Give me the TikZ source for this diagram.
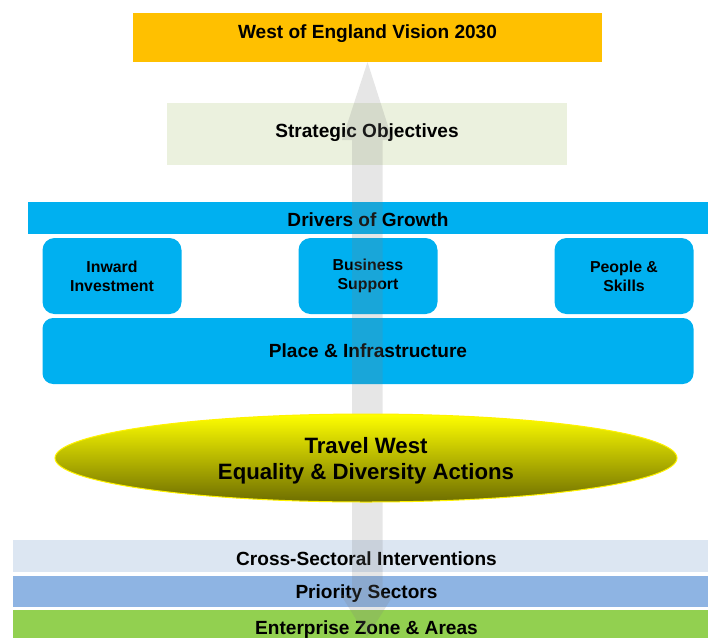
\documentclass[tikz,border=0pt]{standalone}
\usepackage{fontspec}
\setmainfont{Liberation Sans}
\usetikzlibrary{positioning, shapes.geometric}
\definecolor{visionorange}{HTML}{FFC000}
\definecolor{objectivegreen}{HTML}{EBF1DE}
\definecolor{growthblue}{HTML}{00B0F0}
\definecolor{crossgrey}{HTML}{DCE6F2}
\definecolor{prioritysky}{HTML}{8EB4E3}
\definecolor{enterprisegreen}{HTML}{92D050}
\definecolor{ovalmid}{HTML}{CCCC00}
\definecolor{ovalbottom}{HTML}{6E6E00}
\tikzset{
x=0.75pt, y=-0.75pt, % one unit is one pixel of the layout, y runs downward
node distance=192pt, % centre to centre distance of the three driver tiles
every node/.style={inner sep=0pt, outer sep=0pt, font=\bfseries\fontsize{14.3}{17}\selectfont}, % plain boxes, bold Arial-like text
onerow/.style={text height=10.3pt, text depth=#1}, % centres the capitals, a depth lifts the text
onerow/.default=0pt,
panel/.style={rectangle}, % a flat box, the fill is given per node
tile/.style={rectangle, fill=growthblue, rounded corners=9pt, minimum width=104.25pt, minimum height=57pt, align=center, font=\bfseries\fontsize{11.9}{14}\selectfont}, % the three small driver boxes
bar/.style={rectangle, fill=#1, minimum width=530.25pt, minimum height=24pt}, % the long bands at the foot
uparrow/.style={fill=gray, fill opacity=0.2}, % the see-through arrow behind everything
oval/.style={ellipse, draw=yellow, line width=0.75pt, top color=yellow, middle color=ovalmid, bottom color=ovalbottom, minimum width=466.5pt, minimum height=66pt, align=center, font=\bfseries\fontsize{16.65}{19.5}\selectfont}, % the shaded ellipse
}
\begin{document}
        \begin{tikzpicture}
            \useasboundingbox (0,0) rectangle (708,637);

            \node[panel, fill=visionorange, minimum width=351.75pt, minimum height=36.75pt, onerow=9pt] (vision) at (367.5,37.5) {West of England Vision 2030};
            \node[panel, fill=objectivegreen, minimum width=300pt, minimum height=46.5pt, onerow=4.5pt] (objectives) at (367,134) {Strategic Objectives};
            \node[panel, fill=growthblue, minimum width=510pt, minimum height=24pt, onerow, text height=12.5pt] (drivers) at (368,218) {Drivers of Growth};

            \node[tile, below=3pt of drivers] (business) {Business\\Support};
            \node[tile, left of=business] (inward) {Inward\\Investment};
            \node[tile, right of=business] (people) {People \&\\Skills};
            \node[panel, fill=growthblue, rounded corners=8pt, minimum width=488.25pt, minimum height=49.5pt, onerow, below=3pt of business] (place) {Place \& Infrastructure};

            \node[bar=crossgrey, onerow, text height=14pt] (cross) at (366.5,556) {Cross-Sectoral Interventions};
            \node[bar=prioritysky, minimum height=23.25pt, onerow, below=3pt of cross] (priority) {Priority Sectors};
            \node[bar=enterprisegreen, minimum height=27pt, onerow, below=2.25pt of priority] (enterprise) {Enterprise Zone \& Areas};

            \coordinate (top) at (vision.south);
            \coordinate (bottom) at (367,637);
            \fill[uparrow] (top) -- ++(25,78) -- ++(-10,0) -- ++(0,455) -- ++(11,0) -- (bottom)
                    -- ++(-26,-42) -- ++(11,0) -- ++(0,-455) -- ++(-10,0) -- cycle;

            \node[oval] (travel) at (366,458) {\rule{0pt}{16.6pt}Travel West\\Equality \& Diversity Actions};
        \end{tikzpicture}
\end{document}
